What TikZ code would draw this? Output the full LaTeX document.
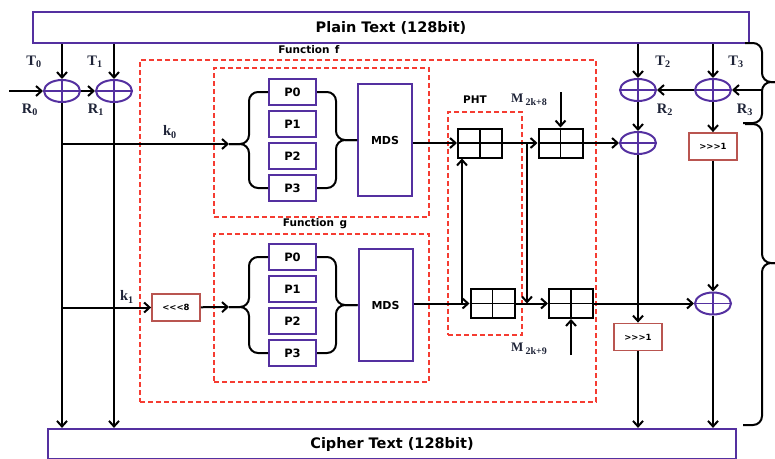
\documentclass[tikz,border=0pt]{standalone}
\usepackage{fontspec}
\setmainfont{Liberation Serif}
\newfontfamily\boxfont{DejaVu Sans}
\usetikzlibrary{arrows.meta,shapes.geometric}

\definecolor{violetline}{RGB}{84,48,160}
\definecolor{dashred}{RGB}{245,60,50}
\definecolor{shiftred}{RGB}{185,85,80}
\definecolor{labink}{RGB}{30,35,55}

\tikzset{
  wire/.style={line width=2pt,black},
  arr/.style={wire,-{Straight Barb[length=5.5pt,width=10pt]}},
  brc/.style={wire,rounded corners=9pt},
  bigbox/.style={rectangle,draw=violetline,line width=2.2pt,inner sep=0pt,
    font=\boxfont\bfseries\fontsize{14.5}{16}\selectfont},
  pbox/.style={rectangle,draw=violetline,line width=2pt,inner sep=0pt,
    minimum width=47pt,minimum height=26pt,
    font=\boxfont\bfseries\fontsize{11.5}{13}\selectfont},
  mdsbox/.style={rectangle,draw=violetline,line width=2pt,inner sep=0pt,
    minimum width=54pt,minimum height=112pt,
    font=\boxfont\bfseries\fontsize{11}{13}\selectfont},
  fnbox/.style={rectangle,draw=dashred,line width=1.8pt,
    dash pattern=on 5pt off 3pt,inner sep=0pt},
  xor/.style={ellipse,draw=violetline,line width=2pt,inner sep=0pt,
    minimum width=36pt,minimum height=22pt,
    path picture={\draw[violetline,line width=1.8pt]
      (path picture bounding box.north) -- (path picture bounding box.south)
      (path picture bounding box.west) -- (path picture bounding box.east);}},
  cellbox/.style={rectangle,draw,line width=2pt,inner sep=0pt,
    minimum width=44pt,minimum height=29pt,
    path picture={\draw[line width=1.9pt]
      (path picture bounding box.north) -- (path picture bounding box.south)
      (path picture bounding box.west) -- (path picture bounding box.east);}},
  shiftbox/.style={rectangle,draw=shiftred,line width=1.8pt,inner sep=0pt,
    minimum width=48pt,minimum height=27pt,
    font=\boxfont\bfseries\fontsize{8.5}{10}\selectfont},
  sym/.style={text=labink,inner sep=0pt,font=\bfseries\fontsize{14.5}{16}\selectfont},
  msym/.style={text=labink,inner sep=0pt,font=\bfseries\fontsize{13}{15}\selectfont},
  boxlabel/.style={inner sep=0pt,font=\boxfont\bfseries\fontsize{10.5}{12}\selectfont},
}

\begin{document}
\begin{tikzpicture}[x=1pt,y=-1pt]
\useasboundingbox (0,0) rectangle (775,458);
\clip (0,0) rectangle (775,458);

% plaintext and ciphertext blocks
\node[bigbox,minimum width=716pt,minimum height=31pt] (plain) at (391,27.5) {Plain Text (128bit)};
\node[bigbox,minimum width=688pt,minimum height=30pt] (cipher) at (392,444) {Cipher Text (128bit)};

% round function frames
\node[fnbox,minimum width=456pt,minimum height=342pt] (round) at (368,231) {};
\node[boxlabel] (funflab) at (309,50) {Function\, f};
\node[fnbox,minimum width=215pt,minimum height=149pt] (funf) at (321.5,142.5) {};
\node[boxlabel] (funglab) at (315,224) {Function\, g};
\node[fnbox,minimum width=215pt,minimum height=148pt] (fung) at (321.5,308) {};
\node[fnbox,minimum width=74pt,minimum height=223pt] (phtbox) at (485,223.5) {};
\node[boxlabel] (phtlab) at (475,100) {PHT};

% S-box groups and MDS matrices
\node[pbox] (pf0) at (292.5,92) {P0};
\node[pbox] (pf1) at (292.5,124) {P1};
\node[pbox] (pf2) at (292.5,156) {P2};
\node[pbox] (pf3) at (292.5,188) {P3};
\node[mdsbox] (mdsf) at (385,140) {MDS};
\node[pbox] (pg0) at (292.5,257) {P0};
\node[pbox] (pg1) at (292.5,289) {P1};
\node[pbox] (pg2) at (292.5,321) {P2};
\node[pbox] (pg3) at (292.5,353) {P3};
\node[mdsbox] (mdsg) at (385.5,305) {MDS};

% braces around the S-boxes
\coordinate (ftip) at (229,144);
\coordinate (fl) at (249,144);
\coordinate (fr) at (336,140);
\draw[brc] (pf0.west) -| (fl) -- (ftip);
\draw[brc] (pf3.west) -| (fl) -- (ftip);
\draw[brc] (pf0.east) -| (fr) -- (mdsf.west);
\draw[brc] (pf3.east) -| (fr) -- (mdsf.west);
\coordinate (gtip) at (229,307);
\coordinate (gl) at (249,307);
\coordinate (gr) at (336,305);
\draw[brc] (pg0.west) -| (gl) -- (gtip);
\draw[brc] (pg3.west) -| (gl) -- (gtip);
\draw[brc] (pg0.east) -| (gr) -- (mdsg.west);
\draw[brc] (pg3.east) -| (gr) -- (mdsg.west);

% PHT and subkey adders
\node[cellbox] (pht1) at (480,143) {};
\node[cellbox] (pht2) at (492.5,303.5) {};
\node[cellbox] (add1) at (560.5,143) {};
\node[cellbox] (add2) at (571,303.5) {};

% XOR nodes
\node[xor] (xa) at (62,91) {};
\node[xor] (xb) at (114,91) {};
\node[xor] (xc) at (638,90) {};
\node[xor] (xd) at (713,90) {};
\node[xor] (xe) at (638,143) {};
\node[xor] (xf) at (713,303.5) {};

% rotations
\node[shiftbox] (shl) at (176,307.5) {<<<8};
\node[shiftbox] (shr3) at (713,146.5) {>>>1};
\node[shiftbox] (shr2) at (638,337) {>>>1};

% labels
\node[sym] (t0) at (34,62) {T\textsubscript{0}};
\node[sym] (t1) at (95,62) {T\textsubscript{1}};
\node[sym] (r0) at (30,110) {R\textsubscript{0}};
\node[sym] (r1) at (96,110) {R\textsubscript{1}};
\node[sym] (t2) at (663,62) {T\textsubscript{2}};
\node[sym] (t3) at (736,62) {T\textsubscript{3}};
\node[sym] (r2) at (665,110) {R\textsubscript{2}};
\node[sym] (r3) at (745,110) {R\textsubscript{3}};
\node[sym] (k0) at (170,132) {k\textsubscript{0}};
\node[sym] (k1) at (127,297) {k\textsubscript{1}};
\node[msym] (m8lab) at (529,100) {M\,{\fontsize{10}{11}\selectfont\raisebox{-2.5pt}{2k+8}}};
\node[msym] (m9lab) at (529,349) {M\,{\fontsize{10}{11}\selectfont\raisebox{-2.5pt}{2k+9}}};

% left half: whitening and pass-through
\coordinate (r0in) at (9,91);
\draw[arr] (r0in) -- (xa);
\draw[arr] (xa) -- (xb);
\draw[arr] (plain.south -| xa) -- (xa);
\draw[arr] (plain.south -| xb) -- (xb);
\draw[arr] (xa) -- (xa |- cipher.north);
\draw[arr] (xb) -- (xb |- cipher.north);
\draw[arr] (xa |- ftip) -- (ftip);
\draw[arr] (xa |- shl) -- (shl);
\draw[arr] (shl) -- (gtip);

% PHT wiring
\draw[arr] (pht1.west -| mdsf.east) -- (pht1.west);
\draw[arr] (pht2.west -| mdsg.east) -- (pht2.west);
\coordinate (b1) at (462,303.5);
\draw[arr] (b1) -- (b1 |- pht1.south);
\coordinate (b2) at (527,143);
\draw[arr] (b2) -- (b2 |- add2.west);
\draw[arr] (pht1.east) -- (add1.west);
\draw[arr] (pht2.east) -- (add2.west);
\coordinate (m8) at (560.5,92);
\draw[arr] (m8) -- (add1.north);
\coordinate (m9) at (571,355);
\draw[arr] (m9) -- (add2.south);
\draw[arr] (add1.east) -- (xe);
\draw[arr] (add2.east) -- (xf);

% right half
\draw[arr] (plain.south -| xc) -- (xc);
\draw[arr] (xc) -- (xe);
\draw[arr] (xe) -- (shr2);
\draw[arr] (shr2) -- (shr2 |- cipher.north);
\draw[arr] (plain.south -| xd) -- (xd);
\draw[arr] (xd) -- (shr3);
\draw[arr] (shr3) -- (xf);
\draw[arr] (xf) -- (xf |- cipher.north);
\draw[arr] (xd) -- (xc);
\coordinate (r3in) at (762,90);
\draw[arr] (r3in) -- (xd);

% braces on the right edge
\coordinate (sbtop) at (745,43);
\coordinate (sbbot) at (743,123);
\coordinate (sbmid) at (762,82);
\coordinate (sbtip) at (776,82);
\draw[brc] (sbtop) -| (sbmid) -- (sbtip);
\draw[brc] (sbbot) -| (sbmid) -- (sbtip);
\coordinate (lbtop) at (745,124);
\coordinate (lbbot) at (743,425);
\coordinate (lbmid) at (762,263);
\coordinate (lbtip) at (776,263);
\draw[brc] (lbtop) -| (lbmid) -- (lbtip);
\draw[brc] (lbbot) -| (lbmid) -- (lbtip);
\end{tikzpicture}
\end{document}
